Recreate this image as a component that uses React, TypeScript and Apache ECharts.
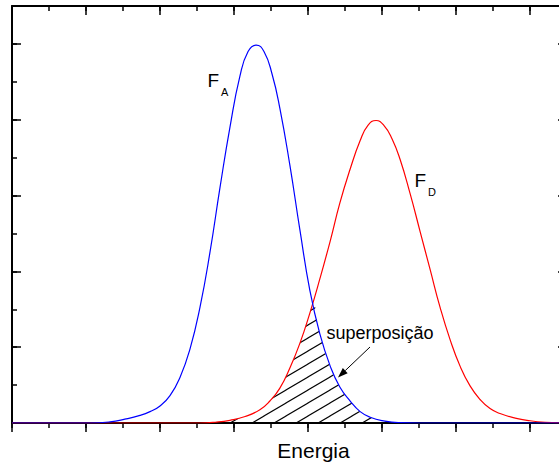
import { useEffect, useRef } from "react";
import * as echarts from "echarts";

// Energy distributions (arbitrary units) for the acceptor (A) and donor (D).
const BLUE_X = [0, 2.11, 2.65, 3.05, 3.46, 3.73, 4.0, 4.27, 4.54, 4.81, 5.08, 5.35, 5.62, 5.89, 6.16, 6.38, 6.6, 6.81, 7.03, 7.24, 7.51, 7.78, 8.05, 8.32, 8.6, 8.86, 9.14, 9.41, 9.68, 10.08, 10.49, 11.03, 15];
const BLUE_Y = [0, 0, 0.03, 0.1, 0.2, 0.3, 0.45, 0.72, 1.2, 1.95, 3.05, 4.5, 6.2, 7.8, 9.15, 9.8, 9.97, 9.8, 9.2, 8.3, 6.8, 5.1, 3.5, 2.35, 1.5, 0.95, 0.58, 0.3, 0.15, 0.05, 0.01, 0, 0];

const RED_X = [0, 3.73, 5.08, 5.49, 5.89, 6.3, 6.7, 6.97, 7.24, 7.51, 7.78, 8.05, 8.32, 8.6, 8.86, 9.14, 9.41, 9.62, 9.84, 10.05, 10.27, 10.49, 10.76, 11.03, 11.3, 11.57, 11.84, 12.11, 12.38, 12.65, 12.92, 13.19, 13.6, 14.0, 14.41, 15];
const RED_Y = [0, 0, 0, 0.02, 0.07, 0.17, 0.35, 0.58, 0.92, 1.45, 2.1, 2.9, 3.8, 4.8, 5.8, 6.7, 7.45, 7.85, 7.98, 7.85, 7.5, 6.95, 6.05, 5.05, 4.05, 3.05, 2.2, 1.5, 0.98, 0.62, 0.38, 0.25, 0.13, 0.06, 0.02, 0];

const X_MAX = 15;
const Y_MAX = 11;

const AXIS_TITLE = "Energia";
const OVERLAP_TEXT = "superposição";
const NAME_A = ["F", "A"];
const NAME_D = ["F", "D"];

const FONT = '"Liberation Sans", Arial, sans-serif';
const SMOOTH = 0.5;

function pairs(xs: number[], ys: number[]) {
  return xs.map((x, i) => [x, ys[i]]);
}

function interp(xs: number[], ys: number[], x: number) {
  for (let i = 1; i < xs.length; i++) {
    if (x <= xs[i]) {
      const t = (x - xs[i - 1]) / (xs[i] - xs[i - 1]);
      return ys[i - 1] + t * (ys[i] - ys[i - 1]);
    }
  }
  return ys[ys.length - 1];
}

// Region under both curves: donor rising edge up to the crossing, then acceptor falling edge.
function overlapRegion() {
  const peakA = BLUE_X[BLUE_Y.indexOf(Math.max(...BLUE_Y))];
  const peakD = RED_X[RED_Y.indexOf(Math.max(...RED_Y))];
  let lo = peakA;
  let hi = peakD;
  for (let k = 0; k < 60; k++) {
    const mid = (lo + hi) / 2;
    const d = interp(BLUE_X, BLUE_Y, mid) - interp(RED_X, RED_Y, mid);
    if (d > 0) lo = mid;
    else hi = mid;
  }
  const xc = (lo + hi) / 2;
  const yc = interp(RED_X, RED_Y, xc);
  const left = RED_X.map((x, i) => [x, RED_Y[i]]).filter((p) => p[0] < xc);
  const right = BLUE_X.map((x, i) => [x, BLUE_Y[i]]).filter((p) => p[0] > xc);
  return [...left, [xc, yc], ...right];
}

function hatchTile(w: number, h: number) {
  const c = document.createElement("canvas");
  c.width = w;
  c.height = h;
  const ctx = c.getContext("2d")!;
  ctx.strokeStyle = "#000";
  ctx.lineWidth = 1.1;
  for (const dy of [-h, 0, h]) {
    ctx.beginPath();
    ctx.moveTo(-w, 2 * h + dy);
    ctx.lineTo(2 * w, -h + dy);
    ctx.stroke();
  }
  return c;
}

function arrow(x1: number, y1: number, x2: number, y2: number, len: number, half: number) {
  const dx = x2 - x1;
  const dy = y2 - y1;
  const L = Math.hypot(dx, dy);
  const ux = dx / L;
  const uy = dy / L;
  const bx = x2 - ux * len;
  const by = y2 - uy * len;
  return [
    { type: "line", shape: { x1, y1, x2: bx, y2: by }, style: { stroke: "#000", lineWidth: 1 }, silent: true },
    {
      type: "polygon",
      shape: { points: [[x2, y2], [bx - uy * half, by + ux * half], [bx + uy * half, by - ux * half]] },
      style: { fill: "#000" },
      silent: true,
    },
  ];
}

function frameAxis(position: string, max: number, interval: number, inside: boolean, length: number, showLine: boolean) {
  return {
    type: "value",
    position,
    min: 0,
    max,
    interval,
    axisLabel: { show: false },
    splitLine: { show: false },
    axisLine: { show: showLine, onZero: false, lineStyle: { color: "#000", width: 2 } },
    axisTick: { show: true, inside, length, lineStyle: { color: "#000", width: 1.5 } },
  };
}

export default function App() {
  const ref = useRef<HTMLDivElement>(null);

  useEffect(() => {
    if (!ref.current) return;
    const chart = echarts.init(ref.current, null, { renderer: "svg" });
    const tile = hatchTile(22, 13);

    const option: any = {
      animation: false,
      backgroundColor: "#fff",
      grid: { left: 12, top: 6, right: -8, bottom: 43, outerBoundsMode: "none", containLabel: false },
      xAxis: [
        frameAxis("bottom", X_MAX, 2, false, 9, true),
        frameAxis("bottom", X_MAX, 1, false, 5, false),
        frameAxis("top", X_MAX, 2, true, 9, true),
        frameAxis("top", X_MAX, 1, true, 5, false),
      ],
      yAxis: [
        frameAxis("left", Y_MAX, 2, true, 9, true),
        frameAxis("left", Y_MAX, 1, true, 5, false),
        frameAxis("right", Y_MAX, 2, true, 9, true),
        frameAxis("right", Y_MAX, 1, true, 5, false),
      ],
      series: [
        {
          name: "overlap",
          type: "line",
          data: overlapRegion(),
          smooth: SMOOTH,
          symbol: "none",
          silent: true,
          z: 1,
          lineStyle: { width: 0, opacity: 0 },
          areaStyle: { color: { image: tile, repeat: "repeat", imageWidth: 22, imageHeight: 13 }, opacity: 1 },
        },
        {
          name: "FD",
          type: "line",
          data: pairs(RED_X, RED_Y),
          smooth: SMOOTH,
          symbol: "none",
          silent: true,
          z: 3,
          lineStyle: { color: "#ff0000", width: 1.2 },
        },
        {
          name: "FA",
          type: "line",
          data: pairs(BLUE_X, BLUE_Y),
          smooth: SMOOTH,
          symbol: "none",
          silent: true,
          z: 4,
          lineStyle: { color: "#0000ff", width: 1.2 },
        },
      ],
      graphic: [
        { type: "text", x: 207.5, y: 80, style: { text: NAME_A[0], font: `19px ${FONT}`, fill: "#000", verticalAlign: "middle" }, silent: true },
        { type: "text", x: 221, y: 92, style: { text: NAME_A[1], font: `11px ${FONT}`, fill: "#000", verticalAlign: "middle" }, silent: true },
        { type: "text", x: 414.5, y: 180, style: { text: NAME_D[0], font: `19px ${FONT}`, fill: "#000", verticalAlign: "middle" }, silent: true },
        { type: "text", x: 428, y: 191.5, style: { text: NAME_D[1], font: `11px ${FONT}`, fill: "#000", verticalAlign: "middle" }, silent: true },
        { type: "text", x: 326.5, y: 333, style: { text: OVERLAP_TEXT, font: `18px ${FONT}`, fill: "#000", verticalAlign: "middle" }, silent: true },
        { type: "text", x: 313.5, y: 450, style: { text: AXIS_TITLE, font: `21px ${FONT}`, fill: "#000", align: "center", verticalAlign: "middle" }, silent: true },
        ...arrow(370, 347, 338, 377.5, 10, 3.5),
      ],
    };

    chart.setOption(option);
    return () => chart.dispose();
  }, []);

  return (
    <div
      ref={ref}
      style={{ position: "fixed", left: 0, top: 0, width: 559, height: 466, background: "#fff" }}
    />
  );
}
